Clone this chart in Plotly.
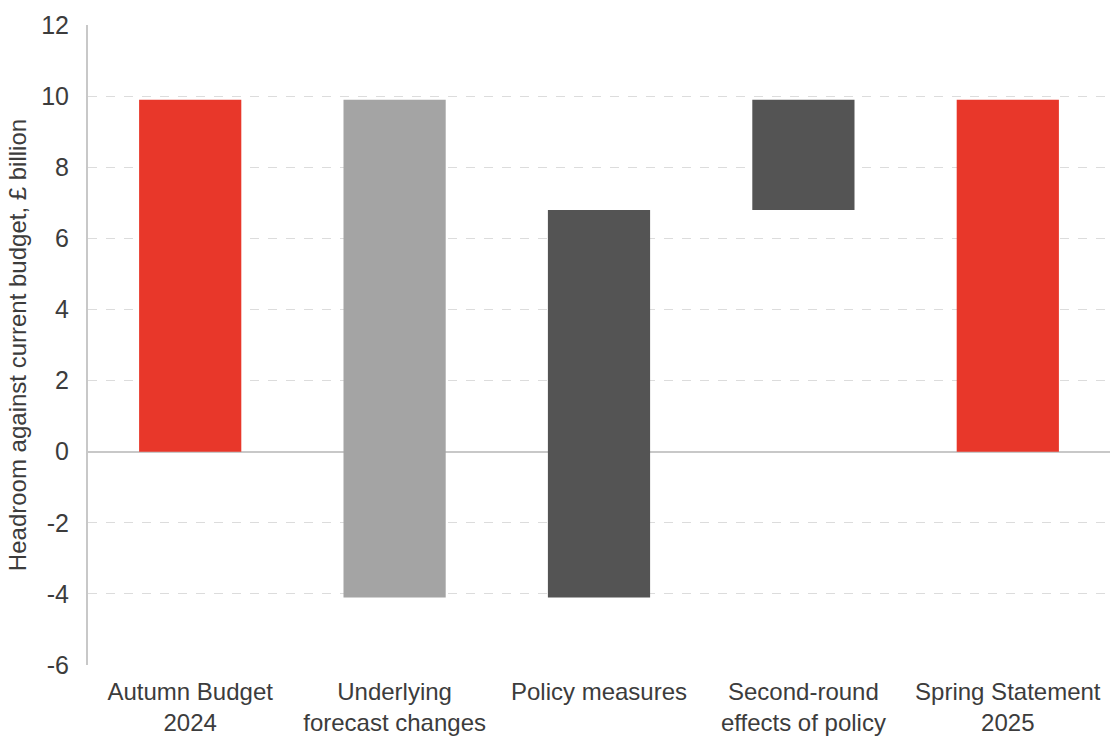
import plotly.graph_objects as go

# Headroom against the current budget: waterfall from Autumn Budget 2024 to Spring Statement 2025
categories = [
    "Autumn Budget<br>2024",
    "Underlying<br>forecast changes",
    "Policy measures",
    "Second-round<br>effects of policy",
    "Spring Statement<br>2025",
]
starting_headroom = 9.9
changes = [-14.0, 10.9, 3.1]          # £ billion
ending_headroom = 9.9

tick_values = [12, 10, 8, 6, 4, 2, 0, -2, -4, -6]
tick_labels = ["12", "10", "8", "6", "4", "2", "0", "-2", "-4", "-6"]

RED = "#E8372A"
LIGHT = "#A4A4A4"
DARK = "#545454"

# Build floating bars: base and height for each step
bases, heights, colours = [0.0], [starting_headroom], [RED]
level = starting_headroom
for i, delta in enumerate(changes):
    new_level = level + delta
    bases.append(min(level, new_level))
    heights.append(abs(delta))
    colours.append(LIGHT if i == 0 else DARK)
    level = new_level
bases.append(0.0)
heights.append(ending_headroom)
colours.append(RED)

fig = go.Figure(
    go.Bar(
        x=categories,
        y=heights,
        base=bases,
        marker=dict(color=colours, line=dict(width=0)),
        width=0.5,
        hoverinfo="skip",
    )
)

font_family = "Liberation Sans, Arial, sans-serif"
fig.update_layout(
    width=1110,
    height=736,
    margin=dict(l=88, r=0, t=25, b=71),
    plot_bgcolor="white",
    paper_bgcolor="white",
    showlegend=False,
    font=dict(family=font_family, size=25, color="#3C3C3C"),
    bargap=0.5,
)
fig.update_xaxes(
    showgrid=False,
    showline=False,
    automargin=False,
    ticks="outside",
    ticklen=5,
    tickcolor="rgba(0,0,0,0)",
    tickfont=dict(size=24, color="#3C3C3C"),
)
fig.update_yaxes(
    range=[-6, 12],
    tickvals=tick_values,
    ticktext=tick_labels,
    showgrid=True,
    gridcolor="#DCDCDC",
    griddash="dash",
    gridwidth=1,
    zeroline=True,
    zerolinecolor="#C8C8C8",
    zerolinewidth=2,
    showline=True,
    linecolor="#C8C8C8",
    linewidth=2,
    ticks="outside",
    ticklen=12,
    tickcolor="rgba(0,0,0,0)",
    tickfont=dict(size=25, color="#3C3C3C"),
    title=dict(
        text="Headroom against current budget, £ billion",
        font=dict(size=24, color="#3C3C3C"),
        standoff=8,
    ),
)

fig.write_html("out.html")
